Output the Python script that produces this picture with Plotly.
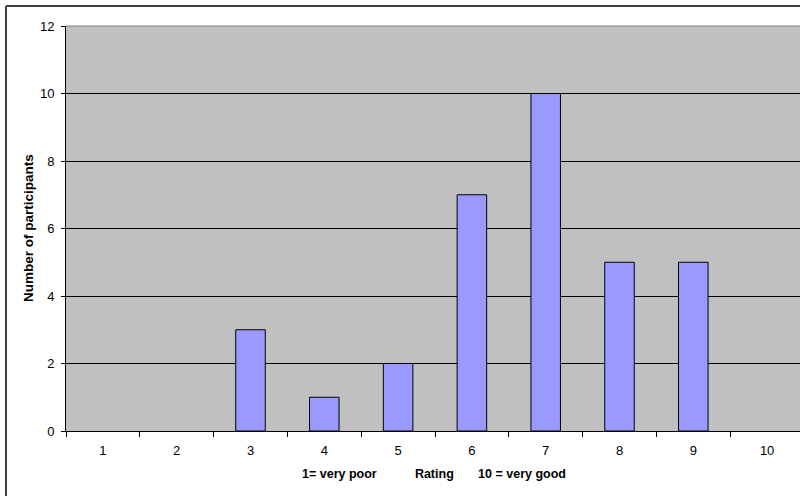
import plotly.graph_objects as go

ratings = ["1", "2", "3", "4", "5", "6", "7", "8", "9", "10"]
participants = [0, 0, 3, 1, 2, 7, 10, 5, 5, 0]
y_ticks = [0, 2, 4, 6, 8, 10, 12]
x_title = "1= very poor" + "\u00a0" * 11 + "Rating" + "\u00a0" * 7 + "10 = very good"
y_title = "Number of participants"

W, H = 800, 496
L, T, B = 66, 26, 65
pw = W - L
ph = H - T - B

fig = go.Figure()
fig.add_trace(go.Bar(
    x=ratings, y=participants,
    marker=dict(color="#9999FF",
                line=dict(color="#000000",
                          width=[1 if v > 0 else 0 for v in participants])),
    hoverinfo="x+y",
))

fig.update_layout(
    width=W, height=H,
    margin=dict(l=L, r=0, t=T, b=B, pad=0),
    paper_bgcolor="#FFFFFF",
    plot_bgcolor="#C0C0C0",
    bargap=0.6,
    showlegend=False,
    font=dict(family="Liberation Sans, Arial, sans-serif", size=13, color="#000000"),
    xaxis=dict(
        type="category",
        range=[-0.5, 9.5 - 4 / 73.7],
        tickson="boundaries",
        ticks="outside", ticklen=5, tickcolor="#000000", tickwidth=1,
        showline=True, linecolor="#000000", linewidth=1,
        showgrid=False, zeroline=False,
        tickfont=dict(size=13),
        ticklabelstandoff=7,
    ),
    yaxis=dict(
        range=[0, 12],
        tickvals=y_ticks,
        ticks="outside", ticklen=4, tickcolor="#000000", tickwidth=1,
        showline=True, linecolor="#000000", linewidth=1,
        showgrid=True, gridcolor="#000000", gridwidth=1,
        zeroline=False,
        tickfont=dict(size=13),
        ticklabelstandoff=4,
    ),
    shapes=[
        dict(type="line", xref="paper", yref="paper", x0=0, x1=1.01, y0=1, y1=1,
             line=dict(color="#808080", width=1)),
        dict(type="line", xref="paper", yref="paper",
             x0=(6 - L) / pw, x1=1.05, y0=1 + (T - 6) / ph, y1=1 + (T - 6) / ph,
             line=dict(color="#404040", width=2)),
        dict(type="line", xref="paper", yref="paper",
             x0=(6 - L) / pw, x1=(6 - L) / pw, y0=1 + (T - 6) / ph, y1=-0.3,
             line=dict(color="#404040", width=2)),
    ],
    annotations=[
        dict(text="<b>" + y_title + "</b>", xref="paper", yref="paper",
             x=(28 - L) / pw, y=(T + ph - 228) / ph, xanchor="center", yanchor="middle",
             textangle=-90, showarrow=False, font=dict(size=13.5)),
        dict(text="<b>" + x_title + "</b>", xref="paper", yref="paper",
             x=(434 - L) / pw, y=(T + ph - 474) / ph, xanchor="center", yanchor="middle",
             showarrow=False, font=dict(size=12.5)),
    ],
)

fig.write_html("out.html", config={"displayModeBar": False},
               post_script="document.body.style.margin='0';document.body.style.overflow='hidden';")
